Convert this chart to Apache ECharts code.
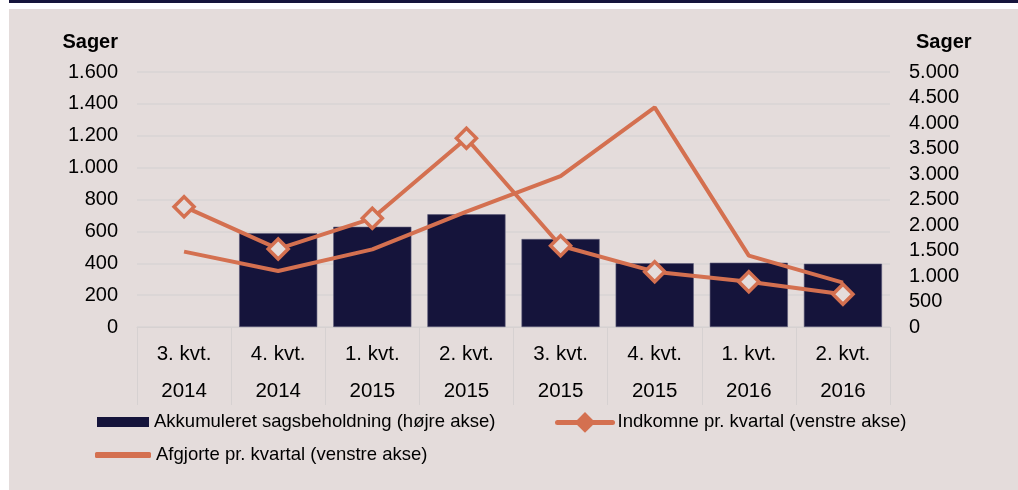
<!DOCTYPE html>
<html>
<head>
<meta charset="utf-8">
<script src="https://cdn.jsdelivr.net/npm/echarts@6/dist/echarts.min.js"></script>
<style>
  html, body { margin:0; padding:0; background:#ffffff; width:1018px; height:490px; overflow:hidden; }
  #topbar { position:absolute; left:9px; top:0; width:1009px; height:3px; background:#15143b; }
  #panel { position:absolute; left:9px; top:9px; width:1009px; height:481px; background:#e4dcdb; }
  #chart { position:absolute; left:0; top:0; width:1018px; height:490px; }
</style>
</head>
<body>
<div id="topbar"></div>
<div id="panel"></div>
<div id="chart"></div>
<script>
const categories = ['3. kvt.\n2014','4. kvt.\n2014','1. kvt.\n2015','2. kvt.\n2015','3. kvt.\n2015','4. kvt.\n2015','1. kvt.\n2016','2. kvt.\n2016'];
const beholdning = [null, 1840, 1965, 2210, 1725, 1250, 1260, 1240];
const indkomne = [755, 490, 682, 1184, 510, 347, 284, 205];
const afgjorte = [473, 351, 487, 724, 947, 1378, 448, 278];
const leftTicks = [0, 1600, 200];
const rightTicks = [0, 5000, 500];

const NAVY = '#15143b';
const ORANGE = '#d47050';
const BG = '#e4dcdb';
const FONT = '"Liberation Sans", Arial, sans-serif';
const fmt = v => String(v).replace(/\B(?=(\d{3})+(?!\d))/g, '.');
const legendText = { fontSize: 18.5, color: '#000', lineHeight: 20, fontFamily: FONT };

const chart = echarts.init(document.getElementById('chart'), null, {renderer:'canvas'});
chart.setOption({
  backgroundColor: 'transparent',
  animation: false,
  textStyle: { fontFamily: FONT, color: '#000' },
  grid: { left: 137, right: 128, top: 72, bottom: 163, containLabel: false },
  legend: [
    { left: 97, top: 412, padding: 0, itemWidth: 52, itemHeight: 10, itemGap: 0,
      textStyle: legendText,
      data: [{ name: 'Akkumuleret sagsbeholdning (højre akse)', icon: 'rect', itemStyle: { color: NAVY, borderWidth: 0 } }] },
    { left: 555, top: 412, padding: 0, itemWidth: 55, itemHeight: 26, itemGap: 0,
      textStyle: legendText,
      lineStyle: { width: 5, cap: 'round', color: ORANGE },
      data: [{ name: 'Indkomne pr. kvartal (venstre akse)', itemStyle: { color: ORANGE, borderWidth: 0 } }] },
    { left: 95, top: 445, padding: 0, itemWidth: 56, itemHeight: 6, itemGap: 0,
      textStyle: legendText,
      data: [{ name: 'Afgjorte pr. kvartal (venstre akse)', icon: 'roundRect', itemStyle: { color: ORANGE, borderWidth: 0 } }] }
  ],
  xAxis: {
    type: 'category',
    data: categories,
    boundaryGap: true,
    axisLine: { show: true, lineStyle: { color: '#d6d1d1', width: 1 } },
    axisTick: { show: true, length: 78, interval: 0, lineStyle: { color: '#d6d1d1', width: 1 } },
    axisLabel: { interval: 0, margin: 9, fontSize: 20.5, lineHeight: 37, color: '#000', fontFamily: FONT }
  },
  yAxis: [
    {
      type: 'value', min: leftTicks[0], max: leftTicks[1], interval: leftTicks[2],
      name: 'Sager', nameLocation: 'end', nameGap: 30,
      nameTextStyle: { fontSize: 20, fontWeight: 'bold', color: '#000', align: 'right', verticalAlign: 'middle', padding: [0, 19, 0, 0], fontFamily: FONT },
      axisLine: { show: false }, axisTick: { show: false },
      axisLabel: { fontSize: 20, color: '#000', margin: 19, formatter: fmt, fontFamily: FONT },
      splitLine: { show: true, lineStyle: { color: '#d9d4d4', width: 1.5 } }
    },
    {
      type: 'value', min: rightTicks[0], max: rightTicks[1], interval: rightTicks[2],
      name: 'Sager', nameLocation: 'end', nameGap: 30,
      nameTextStyle: { fontSize: 20, fontWeight: 'bold', color: '#000', align: 'left', verticalAlign: 'middle', padding: [0, 0, 0, 26], fontFamily: FONT },
      axisLine: { show: false }, axisTick: { show: false },
      axisLabel: { fontSize: 20, color: '#000', margin: 19, formatter: fmt, fontFamily: FONT },
      splitLine: { show: false }
    }
  ],
  series: [
    {
      name: 'Akkumuleret sagsbeholdning (højre akse)',
      type: 'bar', yAxisIndex: 1, data: beholdning,
      barCategoryGap: '17%',
      itemStyle: { color: NAVY, borderColor: '#5c5b78', borderWidth: 0.6 },
      z: 1
    },
    {
      name: 'Afgjorte pr. kvartal (venstre akse)',
      type: 'line', yAxisIndex: 0, data: afgjorte,
      symbol: 'none',
      lineStyle: { color: ORANGE, width: 4 },
      itemStyle: { color: ORANGE },
      z: 3
    },
    {
      name: 'Indkomne pr. kvartal (venstre akse)',
      type: 'line', yAxisIndex: 0, data: indkomne,
      symbol: 'diamond', symbolSize: 20, showSymbol: true,
      lineStyle: { color: ORANGE, width: 4 },
      itemStyle: { color: BG, borderColor: ORANGE, borderWidth: 3.5 },
      z: 4
    }
  ]
});
</script>
</body>
</html>
